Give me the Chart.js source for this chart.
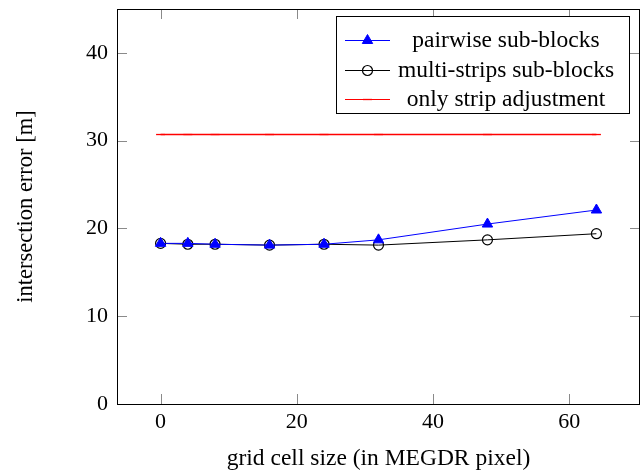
<!DOCTYPE html>
<html>
  <head>
    <meta charset="utf-8">
    <style type="text/css">
      html, body { margin: 0; padding: 0; background: #ffffff; }
      .chart-container { width: 641px; height: 473px; }
    </style>
  </head>
  <body>
    <script src="https://cdn.jsdelivr.net/npm/chart.js@4.4.1/dist/chart.umd.min.js"></script>

    <div class="chart-container">
      <canvas id="myChart" width="641" height="473"></canvas>
    </div>

    <script>
      /* datas */
      const cellSizes = [0, 4, 8, 16, 24, 32, 48, 64];
      const pairwise = [18.3, 18.3, 18.2, 18.1, 18.2, 18.7, 20.5, 22.1];
      const multiStrips = [18.3, 18.2, 18.2, 18.1, 18.2, 18.1, 18.7, 19.4];
      const stripOnly = [30.7, 30.7, 30.7, 30.7, 30.7, 30.7, 30.7, 30.7];
      const xTicks = [0, 20, 40, 60];
      const yTicks = [0, 10, 20, 30, 40];
      const seriesNames = ['pairwise sub-blocks', 'multi-strips sub-blocks', 'only strip adjustment'];

      const FONT = "'Liberation Serif', 'Times New Roman', serif";
      const toPoints = (vals) => vals.map((v, i) => ({ x: cellSizes[i], y: v }));

      // box round the plot + inward ticks on all four sides
      const frame = {
        id: 'frame',
        afterDatasetsDraw(chart) {
          const { ctx, chartArea: a, scales } = chart;
          const len = 10;
          ctx.save();
          ctx.strokeStyle = '#8a8a8a';
          ctx.lineWidth = 1;
          ctx.beginPath();
          xTicks.forEach(v => {
            const px = Math.round(scales.x.getPixelForValue(v)) + 0.5;
            ctx.moveTo(px, a.bottom); ctx.lineTo(px, a.bottom - len);
            ctx.moveTo(px, a.top); ctx.lineTo(px, a.top + len);
          });
          yTicks.forEach(v => {
            const py = Math.round(scales.y.getPixelForValue(v)) + 0.5;
            ctx.moveTo(a.left, py); ctx.lineTo(a.left + len, py);
            ctx.moveTo(a.right, py); ctx.lineTo(a.right - len, py);
          });
          ctx.stroke();
          ctx.strokeStyle = '#000000';
          ctx.strokeRect(Math.round(a.left) + 0.5, Math.round(a.top) + 0.5,
                         Math.round(a.right - a.left) - 1, Math.round(a.bottom - a.top));
          ctx.restore();
        },
        afterDraw(chart) {
          // legend in the top right corner
          const { ctx } = chart;
          const box = { x: 336.5, y: 16.5, w: 293, h: 97 };
          ctx.save();
          ctx.fillStyle = '#ffffff';
          ctx.fillRect(box.x, box.y, box.w, box.h);
          ctx.strokeStyle = '#000000';
          ctx.lineWidth = 1;
          ctx.strokeRect(box.x, box.y, box.w, box.h);
          const rows = [40, 70, 99];
          chart.data.datasets.forEach((ds, i) => {
            const y = rows[i] + 0.5;
            ctx.strokeStyle = ds.borderColor;
            ctx.lineWidth = 1;
            ctx.beginPath();
            ctx.moveTo(345, y); ctx.lineTo(390, y);
            ctx.stroke();
            ctx.fillStyle = ds.pointBackgroundColor;
            ctx.strokeStyle = ds.pointBorderColor;
            ctx.lineWidth = ds.pointBorderWidth;
            Chart.helpers.drawPoint(ctx, {
              pointStyle: ds.pointStyle, radius: ds.pointRadius, rotation: 0,
              borderWidth: ds.pointBorderWidth
            }, 367.5, y);
            ctx.fillStyle = '#000000';
            ctx.font = '23.5px ' + FONT;
            ctx.textAlign = 'center';
            ctx.textBaseline = 'middle';
            ctx.fillText(seriesNames[i], 506, y);
          });
          ctx.restore();
        }
      };

      const myChart = new Chart('myChart', {
        type: 'line',
        data: {
          datasets: [{
            label: seriesNames[0],
            data: toPoints(pairwise),
            borderColor: '#0000ff',
            borderWidth: 1,
            pointStyle: 'triangle',
            pointRadius: 6,
            pointBorderWidth: 1,
            pointBackgroundColor: '#0000ff',
            pointBorderColor: '#0000ff',
            tension: 0,
            order: 1
          }, {
            label: seriesNames[1],
            data: toPoints(multiStrips),
            borderColor: '#000000',
            borderWidth: 1,
            pointStyle: 'circle',
            pointRadius: 5,
            pointBorderWidth: 1.2,
            pointBackgroundColor: 'rgba(255,255,255,0)',
            pointBorderColor: '#000000',
            tension: 0,
            order: 2
          }, {
            label: seriesNames[2],
            data: toPoints(stripOnly),
            borderColor: '#ff0000',
            borderWidth: 1.3,
            pointStyle: 'line',
            pointRadius: 4.5,
            pointBorderWidth: 1.3,
            pointBackgroundColor: '#ff0000',
            pointBorderColor: '#ff0000',
            tension: 0,
            order: 3
          }]
        },
        options: {
          responsive: false,
          devicePixelRatio: 1,
          animation: false,
          layout: { autoPadding: false, padding: { top: 9, right: 1, left: 0, bottom: 0 } },
          plugins: {
            legend: { display: false },
            tooltip: { enabled: false }
          },
          scales: {
            x: {
              type: 'linear',
              min: -6.4,
              max: 70.4,
              afterBuildTicks: (s) => { s.ticks = xTicks.map(v => ({ value: v })); },
              afterFit: (s) => {
                s.height = 69;
                s.paddingLeft = 0; s.paddingRight = 0;
              },
              grid: { display: false, drawTicks: false },
              border: { display: false },
              ticks: {
                color: '#000000',
                font: { family: FONT, size: 22 },
                padding: 5,
                maxRotation: 0
              },
              title: {
                display: true,
                text: 'grid cell size (in MEGDR pixel)',
                color: '#000000',
                font: { family: FONT, size: 23.5 },
                padding: { top: 0, bottom: 0 }
              }
            },
            y: {
              min: 0,
              max: 45,
              afterBuildTicks: (s) => { s.ticks = yTicks.map(v => ({ value: v })); },
              afterFit: (s) => {
                s.width = 117;
                s.paddingTop = 0; s.paddingBottom = 0;
              },
              grid: { display: false, drawTicks: false },
              border: { display: false },
              ticks: {
                color: '#000000',
                font: { family: FONT, size: 22 },
                padding: 9
              },
              title: {
                display: true,
                text: 'intersection error [m]',
                color: '#000000',
                font: { family: FONT, size: 22.5 },
                padding: { top: 13, bottom: 0 }
              }
            }
          }
        },
        plugins: [frame]
      });
    </script>
  </body>
</html>
